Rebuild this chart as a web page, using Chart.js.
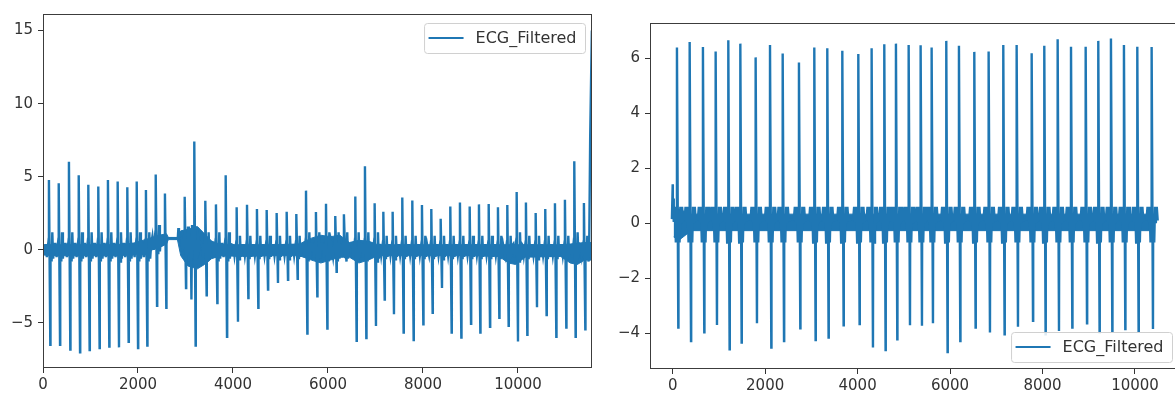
<!DOCTYPE html>
<html><head><meta charset="utf-8">
<script src="https://cdn.jsdelivr.net/npm/chart.js@4"></script>
<style>
html,body{margin:0;padding:0;background:#fff;overflow:hidden;width:1175px;height:398px;position:relative;}
#c1{position:absolute;left:0;top:0;}
#c2{position:absolute;left:600px;top:0;}
</style></head><body>
<canvas id="c1" width="600" height="398"></canvas>
<canvas id="c2" width="585" height="398"></canvas>
<script>
const seriesLabel = 'ECG_Filtered';

// ---------- left panel ----------
const leftBeatX = [126, 331, 547, 752, 954, 1164, 1368, 1572, 1775, 1973, 2168, 2373, 2568, 2983, 3185, 3417, 3642, 3846, 4077, 4295, 4505, 4709, 4919, 5130, 5333, 5537, 5747, 5958, 6153, 6335, 6575, 6779, 6982, 7165, 7361, 7564, 7775, 7979, 8175, 8372, 8575, 8779, 8983, 9179, 9383, 9579, 9775, 9972, 10168, 10372, 10574, 10779, 10989, 11185, 11389];
const leftBeatTop = [4.78, 4.55, 6.03, 5.11, 4.45, 4.34, 4.78, 4.68, 4.28, 4.68, 4.10, 5.16, 3.85, 3.63, 7.41, 3.36, 3.11, 5.11, 2.91, 3.09, 2.79, 2.72, 2.52, 2.61, 2.45, 4.05, 2.59, 3.16, 2.32, 2.43, 3.65, 5.72, 3.18, 2.61, 2.61, 3.58, 3.38, 3.06, 2.79, 2.12, 2.97, 3.24, 2.97, 3.11, 3.13, 2.91, 3.06, 3.96, 3.24, 2.52, 2.79, 3.18, 3.43, 6.06, 3.20];
const leftBeatBottom = [-6.49, -6.49, -6.82, -7.00, -6.85, -6.71, -6.62, -6.67, -6.28, -6.71, -6.55, -3.83, -3.96, -2.61, -6.55, -3.10, -3.63, -5.95, -4.91, -3.29, -3.96, -2.72, -2.27, -2.05, -1.98, -5.72, -3.18, -5.38, -1.50, -0.50, -6.22, -6.03, -5.20, -3.40, -4.41, -5.65, -6.17, -5.09, -4.30, -2.61, -5.65, -5.99, -5.05, -5.65, -5.27, -4.64, -5.20, -6.26, -5.81, -3.92, -4.46, -5.95, -5.32, -5.95, -5.43];
const leftBeatBase = [0, 0, 0, 0, 0, 0, 0, 0, 0, 0, 0, 0.5, 0.8, 0.4, 0.2, 0, 0, 0, 0, 0, 0, 0, 0, 0, 0, 0, 0, 0, 0, 0, 0, 0, 0, 0, 0, 0, 0, 0, 0, 0, 0, 0, 0, 0, 0, 0, 0, 0, 0, 0, 0, 0, 0, 0, 0];
const leftBeatNoise = [1, 1, 1, 1, 1, 1, 1, 1, 1, 1, 1, 1, 0, 1, 1, 1, 1, 1, 0.8, 0.8, 0.8, 0.8, 0.8, 0.8, 0.8, 1, 1, 1, 1, 1, 1, 1, 1, 0.8, 0.8, 0.8, 0.8, 0.8, 0.8, 0.8, 0.8, 0.8, 0.8, 0.8, 0.8, 0.8, 0.8, 1, 0.8, 0.8, 0.8, 0.8, 0.8, 1, 0.8];
// typical baseline wiggle around one beat (offset from the R peak, level)
const leftTplDx = [-70, -45, -20, 55, 70, 88, 110];
const leftTplY  = [0.4, -0.5, 0.3, -0.8, 1.2, -0.6, 0.4];
const leftExtraX = [2838, 2850, 2862, 3112, 3125, 3138, 11480, 11494, 11520, 11555];
const leftExtraY = [0.77, 1.49, 0.77, 0.6, -3.4, 1.7, 0, -0.8, 7.75, 15.0];
const leftBandX   = [0, 300, 700, 1100, 1500, 1900, 2250, 2450, 2600, 2640, 2830, 2900, 3050, 3250, 3400, 3550, 3750, 4200, 4800, 5400, 5650, 5850, 6050, 6250, 6450, 6650, 6850, 7050, 8000, 9000, 9600, 9800, 9950, 10150, 10900, 11100, 11250, 11400, 11555];
const leftBandMid = [0, 0, 0, 0, 0, 0.05, 0.4, 0.6, 0.8, 0.77, 0.77, 0.3, 0, -0.1, 0, 0, 0, 0, 0, 0, 0, 0, 0, 0.1, 0, 0, 0, 0, 0, 0, 0, -0.1, -0.1, 0, 0, -0.1, -0.1, 0, 0];
const leftBandHi  = [0.35, 0.35, 0.35, 0.35, 0.35, 0.45, 0.8, 1.0, 1.1, 0.85, 0.85, 1.3, 1.4, 1.6, 1.1, 0.6, 0.35, 0.35, 0.35, 0.4, 0.8, 1.0, 0.9, 1.0, 0.5, 0.65, 0.6, 0.35, 0.35, 0.35, 0.35, 0.35, 0.35, 0.35, 0.35, 0.4, 0.45, 0.5, 0.5];
const leftBandLo  = [-0.35, -0.4, -0.4, -0.4, -0.4, -0.35, -0.05, 0.15, 0.4, 0.7, 0.7, -0.4, -1.1, -1.3, -1.0, -0.6, -0.4, -0.45, -0.4, -0.4, -0.7, -0.9, -0.7, -0.5, -0.5, -0.9, -0.7, -0.4, -0.4, -0.4, -0.45, -0.9, -1.0, -0.5, -0.45, -0.9, -1.0, -0.7, -0.7];
const leftXTicks = [0, 2000, 4000, 6000, 8000, 10000];
const leftYTicks = [-5, 0, 5, 10, 15];

// ---------- right panel ----------
const rightBeatX = [93, 368, 655, 930, 1203, 1463, 1795, 2105, 2380, 2732, 3063, 3344, 3669, 4015, 4304, 4577, 4830, 5105, 5364, 5602, 5918, 6193, 6524, 6835, 7151, 7441, 7766, 8038, 8328, 8616, 8934, 9206, 9481, 9762, 10050, 10361];
const rightBeatTop = [6.39, 6.59, 6.41, 6.24, 6.65, 6.53, 6.03, 6.48, 6.17, 5.84, 6.39, 6.36, 6.27, 6.15, 6.36, 6.51, 6.53, 6.48, 6.47, 6.39, 6.63, 6.45, 6.23, 6.24, 6.48, 6.48, 6.18, 6.45, 6.69, 6.42, 6.42, 6.63, 6.72, 6.48, 6.42, 6.41];
const rightBeatBottom = [-3.79, -4.28, -3.97, -3.70, -4.58, -4.34, -3.64, -4.52, -4.28, -3.82, -4.25, -4.16, -3.71, -3.67, -4.52, -4.61, -4.22, -3.71, -3.73, -3.64, -4.68, -4.28, -3.79, -3.97, -4.04, -3.76, -3.55, -4.04, -3.92, -3.79, -3.64, -3.97, -3.91, -3.85, -3.92, -3.85];
const rightBeatBase = [0, 0, 0, 0, 0, 0, 0, 0, 0, 0, 0, 0, 0, 0, 0, 0, 0, 0, 0, 0, 0, 0, 0, 0, 0, 0, 0, 0, 0, 0, 0, 0, 0, 0, 0, 0];
const rightBeatNoise = [1, 1, 1, 1, 1, 1, 1, 1, 1, 1, 1, 1, 1, 1, 1, 1, 1, 1, 1, 1, 1, 1, 1, 1, 1, 1, 1, 1, 1, 1, 1, 1, 1, 1, 1, 1];
const rightTplDx = [-110, -90, -70, -45, -25, -12, 55, 72, 90, 110, 130];
const rightTplY  = [0.15, 0.6, 0.05, 0.6, -0.7, 0.5, -0.7, 0.6, 0.0, 0.6, 0.1];
const rightExtraX = [0, 8];
const rightExtraY = [1.42, 0.9];
const rightBandX   = [20, 150, 400, 2000, 4000, 6000, 8000, 10000, 10433];
const rightBandMid = [0.2, 0, 0, 0, 0, 0, 0, 0, 0];
const rightBandHi  = [0.6, 0.5, 0.33, 0.33, 0.33, 0.33, 0.33, 0.33, 0.33];
const rightBandLo  = [-0.5, -0.6, -0.27, -0.27, -0.27, -0.27, -0.27, -0.27, -0.27];
const rightXTicks = [0, 2000, 4000, 6000, 8000, 10000];
const rightYTicks = [-4, -2, 0, 2, 4, 6];

const BLUE = '#1f77b4';
Chart.defaults.font.family = "'DejaVu Sans', sans-serif";
Chart.defaults.font.size = 15;
Chart.defaults.color = '#333';

function buildTrace(c) {
  const pts = [], d = c.d;
  c.bx.forEach((x, i) => {
    const b = c.base[i], k = c.noise[i];
    pts.push({x: x - 2, y: b}, {x: x, y: c.top[i]}, {x: x + d, y: c.bot[i]}, {x: x + d + 4, y: b});
    c.tplDx.forEach((dx, j) => pts.push({x: x + dx, y: b + k * c.tplY[j]}));
  });
  c.ex.forEach((x, i) => pts.push({x: x, y: c.ey[i]}));
  c.bandX.forEach((x, i) => {
    if (!c.bx.some(b => Math.abs(b - x) < 140) && !c.ex.some(e => Math.abs(e - x) < 40)) pts.push({x: x, y: c.bandMid[i]});
  });
  pts.sort((a, b) => a.x - b.x);
  return pts;
}
function pairs(xs, ys) { return xs.map((x, i) => ({x: x, y: ys[i]})); }
const minus = v => (v < 0 ? '\u2212' + Math.abs(v) : String(v));

const framePlugin = {
  id: 'frame',
  afterDraw(chart) {
    const a = chart.chartArea, c = chart.ctx;
    c.save();
    c.strokeStyle = '#3c3c3c'; c.lineWidth = 1;
    c.strokeRect(Math.round(a.left) + 0.5, Math.round(a.top) + 0.5, Math.round(a.right - a.left) - 1, Math.round(a.bottom - a.top) - 1);
    const o = chart.options.plugins.boxLegend;
    const label = chart.data.datasets[0].label;
    c.font = "16px 'DejaVu Sans', sans-serif";
    const tw = c.measureText(label).width;
    const w = 4.5 + 35 + 12 + tw + 8.5, h = 30;
    const x = a.right - o.dx - w;
    const y = o.corner === 'ne' ? a.top + o.dy : a.bottom - o.dy - h;
    c.beginPath();
    if (c.roundRect) c.roundRect(x + 0.5, y + 0.5, w, h, 3); else c.rect(x + 0.5, y + 0.5, w, h);
    c.fillStyle = 'rgba(255,255,255,0.85)'; c.fill();
    c.strokeStyle = '#d0d0d0'; c.lineWidth = 1; c.stroke();
    c.beginPath(); c.moveTo(x + 4.5, y + h / 2); c.lineTo(x + 39.5, y + h / 2);
    c.strokeStyle = BLUE; c.lineWidth = 2.2; c.stroke();
    c.fillStyle = '#333'; c.textBaseline = 'middle'; c.textAlign = 'left';
    c.fillText(label, x + 51.5, y + h / 2 + 1);
    c.restore();
  }
};

function makeChart(id, cfg) {
  const trace = buildTrace(cfg);
  return new Chart(document.getElementById(id), {
    type: 'line',
    data: {
      datasets: [
        {label: seriesLabel, data: trace, borderColor: BLUE, borderWidth: 2.4, pointRadius: 0, fill: false, tension: 0},
        {label: 'hi', data: pairs(cfg.bandX, cfg.bandHi), borderColor: BLUE, borderWidth: 1, pointRadius: 0, fill: false},
        {label: 'lo', data: pairs(cfg.bandX, cfg.bandLo), borderColor: BLUE, borderWidth: 1, pointRadius: 0, fill: '-1', backgroundColor: BLUE}
      ]
    },
    options: {
      responsive: false, animation: false,
      layout: {padding: cfg.pad},
      plugins: {legend: {display: false}, tooltip: {enabled: false}, boxLegend: cfg.legend},
      scales: {
        x: {
          type: 'linear', min: cfg.xmin, max: cfg.xmax,
          afterBuildTicks: s => { s.ticks = cfg.xTicks.map(v => ({value: v})); },
          afterFit: s => { s.height = cfg.xh; },
          ticks: {callback: v => String(v), padding: 3, maxRotation: 0, autoSkip: false},
          grid: {drawOnChartArea: false, tickLength: 5, color: '#333', tickColor: '#333'},
          border: {display: false}
        },
        y: {
          type: 'linear', min: cfg.ymin, max: cfg.ymax,
          afterBuildTicks: s => { s.ticks = cfg.yTicks.map(v => ({value: v})); },
          afterFit: s => { s.width = cfg.yw; },
          ticks: {callback: v => minus(v), padding: 5, autoSkip: false},
          grid: {drawOnChartArea: false, tickLength: 5, color: '#333', tickColor: '#333'},
          border: {display: false}
        }
      }
    },
    plugins: [framePlugin]
  });
}

makeChart('c1', {
  bx: leftBeatX, top: leftBeatTop, bot: leftBeatBottom, base: leftBeatBase, noise: leftBeatNoise,
  tplDx: leftTplDx, tplY: leftTplY, ex: leftExtraX, ey: leftExtraY,
  bandX: leftBandX, bandMid: leftBandMid, bandHi: leftBandHi, bandLo: leftBandLo, d: 28,
  xmin: 0, xmax: 11558, ymin: -8.08, ymax: 16.13, xTicks: leftXTicks, yTicks: leftYTicks,
  pad: {top: 10, right: 8, left: 0, bottom: 0}, xh: 30, yw: 43,
  legend: {corner: 'ne', dx: 7, dy: 9}
});
makeChart('c2', {
  bx: rightBeatX, top: rightBeatTop, bot: rightBeatBottom, base: rightBeatBase, noise: rightBeatNoise,
  tplDx: rightTplDx, tplY: rightTplY, ex: rightExtraX, ey: rightExtraY,
  bandX: rightBandX, bandMid: rightBandMid, bandHi: rightBandHi, bandLo: rightBandLo, d: 28,
  xmin: -491, xmax: 10952, ymin: -5.30, ymax: 7.28, xTicks: rightXTicks, yTicks: rightYTicks,
  pad: {top: 23, right: 6, left: 0, bottom: 0}, xh: 29, yw: 50,
  legend: {corner: 'se', dx: 7, dy: 7}
});
</script>
</body></html>
